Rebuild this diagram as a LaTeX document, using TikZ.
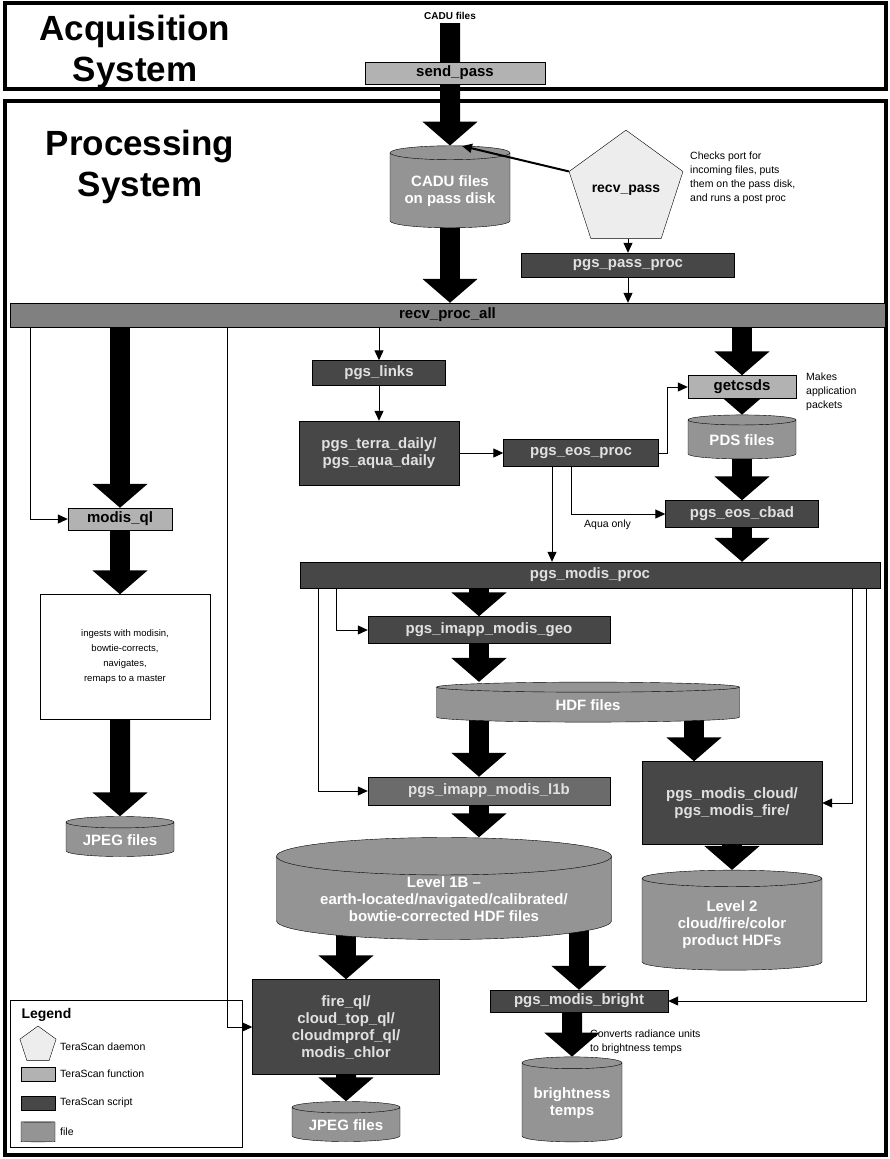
\documentclass[tikz,border=0pt]{standalone}
\usepackage{fontspec}
\setmainfont{Liberation Sans}
\usetikzlibrary{arrows.meta,shapes.geometric,backgrounds}

\tikzset{
  boxlbl/.style={font=\fontsize{15}{17}\selectfont\bfseries, align=center, inner sep=1pt},
  tsfunc/.style={boxlbl, draw=black, fill=black!30, text=black},
  tsscript/.style={boxlbl, draw=black, fill=black!72, text=black!12},
  tsbar/.style={boxlbl, draw=black, fill=black!50, text=black},
  tsfile/.style={boxlbl, cylinder, shape border rotate=90, aspect=0.15, draw=black, fill=black!42, text=white},
  tsdaemon/.style={regular polygon, regular polygon sides=5, draw=black, fill=black!7, inner sep=0pt, font=\fontsize{14}{16}\selectfont\bfseries},
  bigarrow/.style={line width=20pt, -{Triangle[length=24pt,width=54pt]}},
  thinarrow/.style={line width=1pt, -{Triangle[length=10pt,width=9pt]}},
  note/.style={font=\fontsize{10.5}{14}\selectfont, align=left, inner sep=0pt},
  sysframe/.style={line width=4pt},
  systitle/.style={font=\fontsize{35}{41}\selectfont\bfseries, align=center},
}

\begin{document}
\begin{tikzpicture}[x=1pt,y=-1pt]
\begin{pgfonlayer}{background}
  \fill[white] (0,0) rectangle (890,1159);
\end{pgfonlayer}
\useasboundingbox (0,0) rectangle (890,1159);

% frames of the two systems
\draw[sysframe] (5,3) rectangle (886,89);
\draw[sysframe] (5,101) rectangle (886,1155);
\node[systitle] (acqtitle) at (135,52) {Acquisition\\System};
\node[systitle] (proctitle) at (140,167) {Processing\\System};

% acquisition
\node[font=\fontsize{10}{12}\selectfont\bfseries] (cadulbl) at (450,16) {CADU files};
\node[tsfunc, minimum width=180, minimum height=22] (sendpass) at (455,73) {send\_pass};

% reception
\node[tsfile, minimum width=120, minimum height=82] (cadudisk) at (450,191) {CADU files\\on pass disk};
\node[tsdaemon, minimum size=112] (recvpass) at (626,190) {recv\_pass};
\coordinate (cadushaft) at (462,146);
\node[note, anchor=north west] (checksnote) at (690,152) {Checks port for\\incoming files, puts\\them on the pass disk,\\and runs a post proc};
\node[tsscript, minimum width=213, minimum height=24] (passproc) at (628,265) {pgs\_pass\_proc};
\node[tsbar, minimum width=875, minimum height=24] (recvbar) at (447.5,315) {recv\_proc\_all};

% quicklook branch
\node[tsfunc, minimum width=104, minimum height=22] (modisql) at (120,519) {modis\_ql};
\node[draw, fill=white, minimum width=170, minimum height=125, align=center,
      font=\fontsize{9.5}{15}\selectfont] (ingest) at (125,657)
      {ingests with modisin,\\bowtie-corrects,\\navigates,\\remaps to a master};
\node[tsfile, minimum width=108, minimum height=40] (jpegleft) at (120,840) {JPEG files};

% level 0
\node[tsscript, minimum width=133, minimum height=25] (links) at (379,373) {pgs\_links};
\node[tsscript, minimum width=160, minimum height=64] (terra) at (379,453) {pgs\_terra\_daily/\\pgs\_aqua\_daily};
\node[tsscript, minimum width=155, minimum height=27] (eosproc) at (581,453) {pgs\_eos\_proc};
\node[tsfunc, minimum width=108, minimum height=23] (getcsds) at (742,387) {getcsds};
\node[note, anchor=west] (makesnote) at (806,392) {Makes\\application\\packets};
\node[tsfile, minimum width=108, minimum height=44] (pds) at (742,440) {PDS files};
\node[tsscript, minimum width=153, minimum height=27] (cbad) at (742,514) {pgs\_eos\_cbad};
\node[note, anchor=north west] (aquanote) at (584,520) {Aqua only};
\node[tsscript, minimum width=580, minimum height=26] (modisproc) at (590,575) {pgs\_modis\_proc};

% level 1 and 2
\node[tsscript, minimum width=242, minimum height=27] (geo) at (489,630) {pgs\_imapp\_modis\_geo};
\node[tsfile, minimum width=303, minimum height=40] (hdf) at (588,705) {HDF files};
\node[tsscript, fill=black!58, minimum width=242, minimum height=28] (l1b) at (489,791) {pgs\_imapp\_modis\_l1b};
\node[tsscript, minimum width=180, minimum height=83] (cloud) at (732,803) {pgs\_modis\_cloud/\\pgs\_modis\_fire/};
\node[tsfile, minimum width=335, minimum height=102] (lvlone) at (444,899) {Level 1B --\\earth-located/navigated/calibrated/\\bowtie-corrected HDF files};
\node[tsfile, minimum width=180, minimum height=100] (lvltwo) at (732,925) {Level 2\\cloud/fire/color\\product HDFs};
\node[tsscript, minimum width=187, minimum height=95] (fireql) at (346,1027) {fire\_ql/\\cloud\_top\_ql/\\cloudmprof\_ql/\\modis\_chlor};
\node[tsscript, minimum width=178, minimum height=22] (bright) at (579,1001) {pgs\_modis\_bright};
\node[note, anchor=north west] (convnote) at (590,1030) {Converts radiance units\\to brightness temps};
\node[tsfile, minimum width=108, minimum height=40] (jpegbot) at (346,1125) {JPEG files};
\node[tsfile, minimum width=100, minimum height=85] (btemps) at (572,1103) {brightness\\temps};

% legend
\node[draw, line width=1pt, minimum width=232, minimum height=147] (legend) at (126,1073.5) {};
\node[anchor=west, font=\fontsize{14}{16}\selectfont\bfseries] (legendlbl) at (18,1015) {Legend};
\node[tsdaemon, minimum size=38] (keydaemon) at (38,1045) {};
\node[note, anchor=west] (keydaemonlbl) at (60,1047) {TeraScan daemon};
\node[tsfunc, minimum width=34, minimum height=14] (keyfunc) at (38,1074) {};
\node[note, anchor=west] (keyfunclbl) at (60,1074) {TeraScan function};
\node[tsscript, minimum width=34, minimum height=14] (keyscript) at (38,1103) {};
\node[note, anchor=west] (keyscriptlbl) at (60,1103) {TeraScan script};
\node[tsfile, minimum width=34, minimum height=20] (keyfile) at (38,1132) {};
\node[note, anchor=west] (keyfilelbl) at (60,1132) {file};

% connectors
\begin{pgfonlayer}{background}
  \draw[bigarrow] (cadulbl.south) -- (cadudisk.north);
  \draw[bigarrow] (cadudisk.center) -- (cadudisk.center |- recvbar.north);
  \draw[thinarrow] (passproc.north |- recvpass.south) -- (passproc.north);
  \draw[thinarrow] (passproc.center) -- (passproc.center |- recvbar.north);

  \coordinate (qltap) at (30,315);
  \coordinate (firetap) at (227,315);
  \draw[thinarrow] (qltap) |- (modisql.west);
  \draw[thinarrow] (firetap) |- (fireql.west);
  \draw[bigarrow] (modisql.center |- recvbar.center) -- (modisql.north);
  \draw[bigarrow] (modisql.center) -- (modisql.center |- ingest.north);
  \draw[bigarrow] (jpegleft.center |- ingest.center) -- (jpegleft.north);

  \draw[thinarrow] (links.center |- recvbar.center) -- (links.north);
  \draw[thinarrow] (links.center) -- (terra.north);
  \draw[thinarrow] (terra.center) -- (eosproc.west);
  \draw[thinarrow] (eosproc.east) -- ++(9,0) |- (getcsds.west);
  \draw[thinarrow] ([xshift=-10]eosproc.center) |- (cbad.west);
  \draw[thinarrow] ([xshift=-29]eosproc.center) -- ([xshift=-29]eosproc.center |- modisproc.north);
  \draw[bigarrow] (getcsds.center |- recvbar.center) -- (getcsds.north);
  \draw[bigarrow] (getcsds.center) -- (pds.north);
  \draw[bigarrow] (pds.center) -- (cbad.north);
  \draw[bigarrow] (cbad.center) -- (cbad.center |- modisproc.north);

  \coordinate (l1btap) at (318,575);
  \coordinate (geotap) at (336,575);
  \coordinate (cloudtap) at (852,575);
  \coordinate (brighttap) at (866,575);
  \draw[thinarrow] (geotap) |- (geo.west);
  \draw[thinarrow] (l1btap) |- (l1b.west);
  \draw[thinarrow] (cloudtap) |- (cloud.east);
  \draw[thinarrow] (brighttap) |- (bright.east);
  \draw[bigarrow] ([xshift=-10]geo.center |- modisproc.center) -- ([xshift=-10]geo.north);
  \draw[bigarrow] ([xshift=-10]geo.center) -- ([xshift=-10]geo.center |- hdf.north);
  \draw[bigarrow] ([xshift=-10]l1b.center |- hdf.center) -- ([xshift=-10]l1b.north);
  \draw[bigarrow] ([xshift=-38]cloud.center |- hdf.center) -- ([xshift=-38]cloud.north);
  \draw[bigarrow] ([xshift=-10]l1b.center) -- ([xshift=-10]l1b.center |- lvlone.north);
  \draw[bigarrow] (cloud.center) -- (lvltwo.north);
  \draw[bigarrow] (fireql.center |- lvlone.center) -- (fireql.north);
  \draw[bigarrow] (bright.center |- lvlone.center) -- (bright.north);
  \draw[bigarrow] (fireql.center) -- (jpegbot.north);
  \draw[bigarrow] (btemps.center |- bright.center) -- (btemps.north);
\end{pgfonlayer}
\draw[thinarrow, line width=2pt] (recvpass.corner 2) -- (cadushaft);
\end{tikzpicture}
\end{document}
